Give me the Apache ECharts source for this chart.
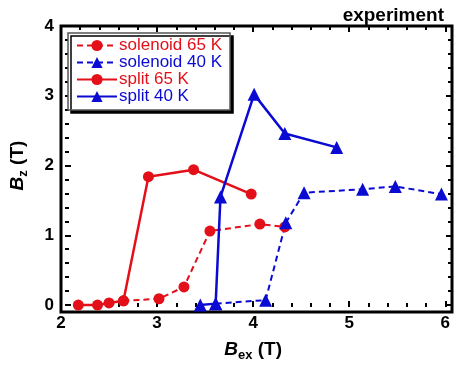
<!DOCTYPE html>
<html>
<head>
<meta charset="utf-8">
<script src="https://cdn.jsdelivr.net/npm/echarts@6/dist/echarts.min.js"></script>
<style>
  html, body { margin: 0; padding: 0; background: #fff; }
  #chart { width: 454px; height: 367px; }
</style>
</head>
<body>
<div id="chart"></div>
<script>
// data: [Bex, Bz] in tesla
var solenoid65 = [[2.65, 0.06], [3.02, 0.09], [3.28, 0.26], [3.55, 1.06], [4.07, 1.16], [4.33, 1.12]];
var solenoid40 = [[3.61, 0.02], [4.13, 0.07], [4.34, 1.18], [4.53, 1.61], [5.14, 1.66], [5.48, 1.70], [5.96, 1.59]];
var split65 = [[2.18, 0.0], [2.38, 0.0], [2.50, 0.03], [2.65, 0.06], [2.91, 1.84], [3.38, 1.94], [3.98, 1.59]];
var split40 = [[3.45, 0.0], [3.61, 0.02], [3.66, 1.55], [4.01, 3.02], [4.33, 2.46], [4.87, 2.26]];

var seriesNames = ['solenoid 65 K', 'solenoid 40 K', 'split 65 K', 'split 40 K'];
var xRange = [2, 6.07];     // full frame
var yRange = [-0.1, 4];
var xTickRange = [2, 6];    // labelled part
var yTickRange = [0, 4];

var RED = '#e31019';
var BLUE = '#0a0ad2';
var font = 'Liberation Sans, Arial, sans-serif';

// frame: left 61, top 26, right edge 452, bottom edge 312
var G = { left: 61, right: 2, top: 26, bottom: 55 };
var pxPerX = (454 - G.left - G.right) / (xRange[1] - xRange[0]);
var pxPerY = (367 - G.top - G.bottom) / (yRange[1] - yRange[0]);

var nameStyle = {
	fontFamily: font,
	rich: {
		i: { fontSize: 19, fontWeight: 'bold', fontStyle: 'italic', color: '#000', fontFamily: font },
		s: { fontSize: 13, fontWeight: 'bold', color: '#000', fontFamily: font, padding: [12, 0, 0, 0] },
		n: { fontSize: 19, fontWeight: 'bold', color: '#000', fontFamily: font }
	}
};
var labelStyle = { color: '#000', fontSize: 17, fontWeight: 'bold', fontFamily: font };

function tickAxis (pos, gridIndex, range, labels) {
	return {
		type: 'value', position: pos, gridIndex: gridIndex,
		min: range[0], max: range[1], interval: 1,
		axisLine: { show: false, onZero: false },
		axisTick: { show: true, inside: true, length: 6, lineStyle: { color: '#000', width: 2 } },
		minorTick: { show: true, splitNumber: 5, length: 4, lineStyle: { color: '#000', width: 2 } },
		axisLabel: Object.assign({ show: labels, margin: 8 }, labelStyle),
		splitLine: { show: false }
	};
}
function hiddenAxis (gridIndex, range) {
	return { type: 'value', gridIndex: gridIndex, min: range[0], max: range[1], show: false };
}

var xBottom = tickAxis('bottom', 1, xTickRange, true);
xBottom.name = '{i|B}{s|ex}{n| (T)}';
xBottom.nameLocation = 'middle';
xBottom.nameGap = 30;
xBottom.nameTextStyle = nameStyle;

var yLeft = tickAxis('left', 2, yTickRange, true);
yLeft.axisLabel.margin = 11;
yLeft.name = '{i|B}{s|z}{n| (T)}';
yLeft.nameLocation = 'middle';
yLeft.nameGap = 35;
yLeft.nameRotate = 90;
yLeft.nameTextStyle = nameStyle;

function line (name, data, color, dashed, symbol) {
	return {
		name: name, type: 'line', data: data,
		xAxisIndex: 0, yAxisIndex: 0,
		symbol: symbol, symbolSize: symbol === 'circle' ? 11 : 13,
		itemStyle: { color: color },
		lineStyle: { color: color, width: dashed ? 2 : 2.5, type: dashed ? [6, 4] : 'solid' },
		animation: false
	};
}

var chart = echarts.init(document.getElementById('chart'));
chart.setOption({
	backgroundColor: '#fff',
	animation: false,
	title: {
		text: 'experiment', right: 5, top: 1,
		textStyle: { fontSize: 19, fontWeight: 'bold', color: '#000', fontFamily: font }
	},
	grid: [
		// data grid, also draws the frame
		{ left: G.left, right: G.right, top: G.top, bottom: G.bottom, show: true,
		  borderColor: '#000', borderWidth: 3, backgroundColor: 'transparent' },
		// x ticks/labels: stops at x = 6
		{ left: G.left, right: G.right + (xRange[1] - xTickRange[1]) * pxPerX, top: G.top, bottom: G.bottom },
		// y ticks/labels: starts at y = 0
		{ left: G.left, right: G.right, top: G.top, bottom: G.bottom + (yTickRange[0] - yRange[0]) * pxPerY }
	],
	xAxis: [
		hiddenAxis(0, xRange),
		xBottom,
		tickAxis('top', 1, xTickRange, false),
		hiddenAxis(2, xRange)
	],
	yAxis: [
		hiddenAxis(0, yRange),
		hiddenAxis(1, yRange),
		yLeft,
		tickAxis('right', 2, yTickRange, false)
	],
	legend: {
		orient: 'vertical', left: 68, top: 33,
		padding: [4, 8, 5, 8],
		itemWidth: 40, itemHeight: 14, itemGap: 0,
		backgroundColor: '#fff',
		borderColor: '#555', borderWidth: 1.5, borderRadius: 0,
		shadowColor: '#000', shadowOffsetX: 3, shadowOffsetY: 3, shadowBlur: 0,
		textStyle: { fontSize: 17, fontFamily: font, padding: [0, 0, 0, -3] },
		data: [
			{ name: seriesNames[0], textStyle: { color: RED } },
			{ name: seriesNames[1], textStyle: { color: BLUE } },
			{ name: seriesNames[2], textStyle: { color: RED } },
			{ name: seriesNames[3], textStyle: { color: BLUE } }
		]
	},
	series: [
		line(seriesNames[0], solenoid65, RED, true, 'circle'),
		line(seriesNames[1], solenoid40, BLUE, true, 'triangle'),
		line(seriesNames[2], split65, RED, false, 'circle'),
		line(seriesNames[3], split40, BLUE, false, 'triangle')
	]
});
</script>
</body>
</html>
